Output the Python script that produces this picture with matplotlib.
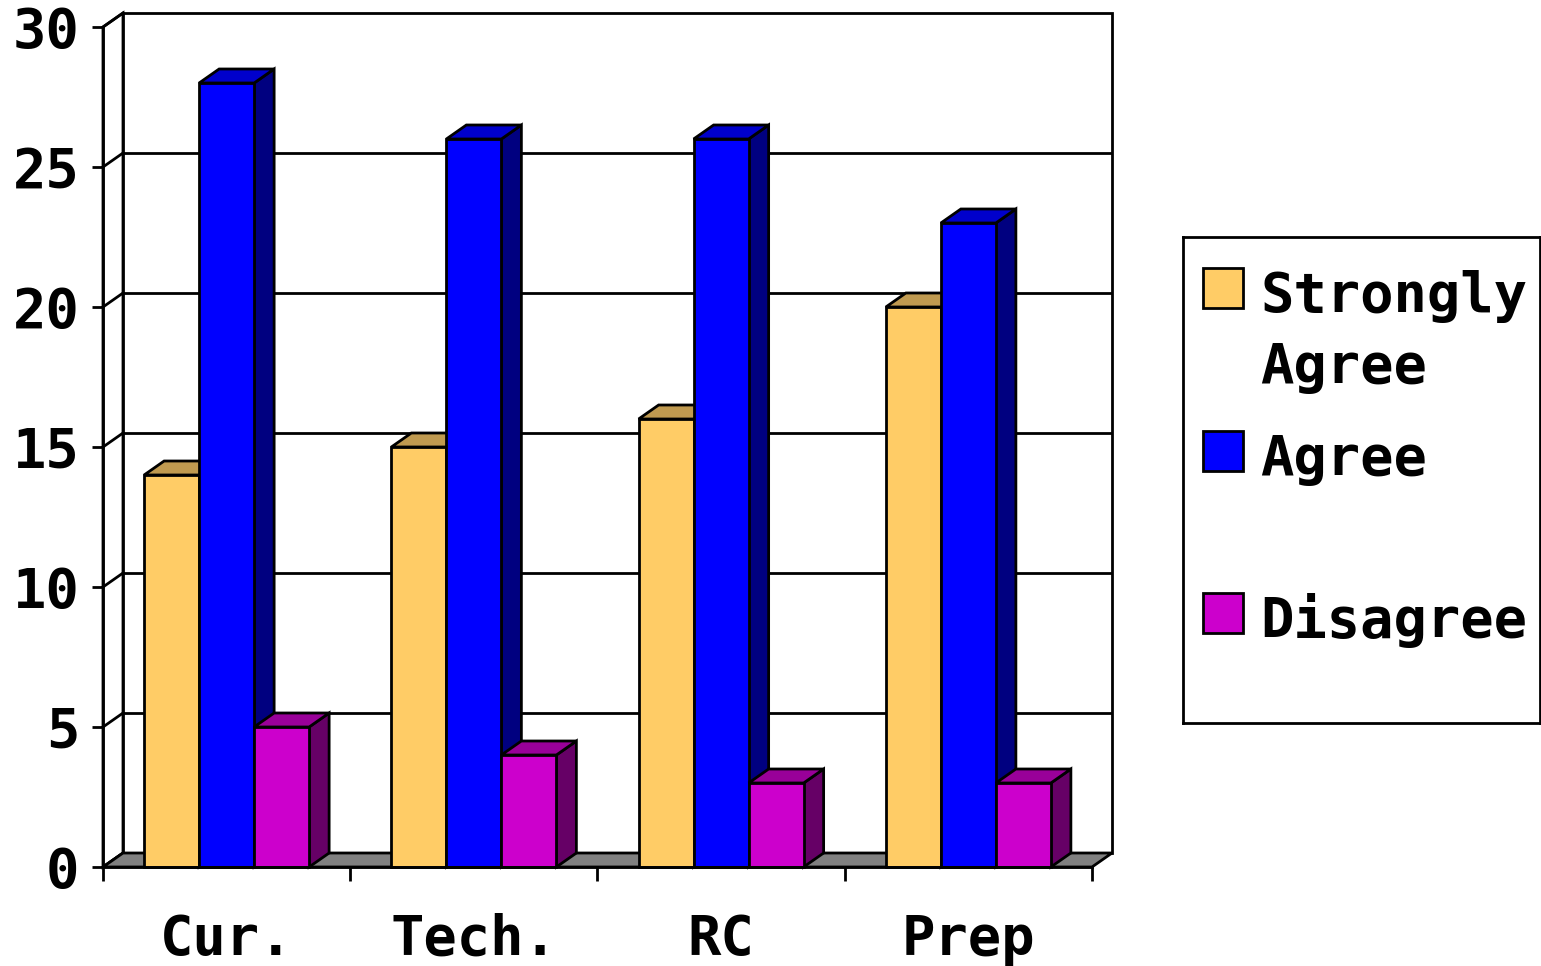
import matplotlib
matplotlib.use("Agg")
import matplotlib.pyplot as plt
from matplotlib.patches import Polygon, Rectangle
from matplotlib.ticker import FixedLocator, NullFormatter, FixedFormatter

# ---- data ----
categories = ["Cur.", "Tech.", "RC", "Prep"]
series_names = ["Strongly Agree", "Agree", "Disagree"]
strongly_agree = [14, 15, 16, 20]
agree = [28, 26, 26, 23]
disagree = [5, 4, 3, 3]
y_ticks = [0, 5, 10, 15, 20, 25, 30]

series_values = [strongly_agree, agree, disagree]

# ---- styling ----
front_colors = ["#FFCC66", "#0000FF", "#CC00CC"]
top_colors = ["#C09A50", "#0000CC", "#990099"]
side_colors = ["#806633", "#000080", "#660066"]
floor_color = "#808080"
FONT = dict(family="DejaVu Sans Mono", weight="bold", size=40)
LW = 2.0

W, H = 1541, 966
fig = plt.figure(figsize=(W / 100, H / 100), dpi=100)
fig.patch.set_facecolor("white")

# plot region (figure pixels)
left_px, right_px, bottom_px, top_px = 103, 1112, 867, 13
depth_px = 20
ax = fig.add_axes([left_px / W, (H - bottom_px) / H,
                   (right_px - left_px) / W, (bottom_px - top_px) / H])

ncat = len(categories)
ymax = y_ticks[-1]
x0, x1 = -0.5, ncat - 0.5
px_per_cat = (right_px - left_px - depth_px) / ncat
ddx = depth_px / px_per_cat          # depth offset along x (category units)
dy = 0.5                             # depth offset along y (value units)
bw = 55 / px_per_cat                 # bar width

ax.set_xlim(x0, x1 + ddx)
ax.set_ylim(0, ymax + dy)
ax.patch.set_visible(False)

# left wall and back wall
ax.add_patch(Polygon([(x0, 0), (x0 + ddx, dy), (x0 + ddx, ymax + dy), (x0, ymax)],
                     closed=True, facecolor="white", edgecolor="black", lw=LW,
                     zorder=1, clip_on=False))
ax.add_patch(Rectangle((x0 + ddx, dy), x1 - x0, ymax, facecolor="white",
                       edgecolor="black", lw=LW, zorder=1, clip_on=False))
for v in y_ticks[1:-1]:
    ax.plot([x0 + ddx, x1 + ddx], [v + dy, v + dy], color="black", lw=LW,
            zorder=1.2, clip_on=False, solid_capstyle="butt")
for v in y_ticks:
    ax.plot([x0, x0 + ddx], [v, v + dy], color="black", lw=LW, zorder=1.2,
            clip_on=False)

# floor
ax.add_patch(Polygon([(x0, 0), (x1, 0), (x1 + ddx, dy), (x0 + ddx, dy)],
                     closed=True, facecolor=floor_color, edgecolor="black",
                     lw=LW, zorder=1.5, clip_on=False))

# bars with top and side faces
for i in range(ncat):
    for j, vals in enumerate(series_values):
        v = vals[i]
        xl = i + (j - 1.5) * bw
        xr = xl + bw
        ax.add_patch(Polygon([(xr, 0), (xr + ddx, dy), (xr + ddx, v + dy), (xr, v)],
                             closed=True, facecolor=side_colors[j],
                             edgecolor="black", lw=LW, zorder=3 + j,
                             clip_on=False, joinstyle="miter"))
        ax.add_patch(Polygon([(xl, v), (xr, v), (xr + ddx, v + dy), (xl + ddx, v + dy)],
                             closed=True, facecolor=top_colors[j],
                             edgecolor="black", lw=LW, zorder=3 + j,
                             clip_on=False, joinstyle="miter"))
        ax.add_patch(Rectangle((xl, 0), bw, v, facecolor=front_colors[j],
                               edgecolor="black", lw=LW, zorder=3.1 + j,
                               clip_on=False, joinstyle="miter"))

# axes lines and ticks
for s in ("top", "right"):
    ax.spines[s].set_visible(False)
ax.spines["left"].set_bounds(0, ymax)
ax.spines["bottom"].set_bounds(x0, x1)
for s in ("left", "bottom"):
    ax.spines[s].set_linewidth(LW)
    ax.spines[s].set_zorder(10)

ax.set_yticks(y_ticks)
ax.set_yticklabels([str(t) for t in y_ticks], fontdict=FONT)
ax.tick_params(axis="y", direction="out", length=8, width=LW, pad=9)

ax.xaxis.set_major_locator(FixedLocator([x0 + k for k in range(ncat + 1)]))
ax.xaxis.set_major_formatter(NullFormatter())
ax.xaxis.set_minor_locator(FixedLocator(list(range(ncat))))
ax.xaxis.set_minor_formatter(FixedFormatter(categories))
ax.tick_params(axis="x", which="major", direction="out", length=10, width=LW)
ax.tick_params(axis="x", which="minor", length=0, pad=33)
for lab in ax.xaxis.get_minorticklabels():
    lab.set_fontproperties(matplotlib.font_manager.FontProperties(**FONT))

# legend box
lx0, ly0, lx1, ly1 = 1183, 237, 1540, 723
lax = fig.add_axes([lx0 / W, (H - ly1) / H, (lx1 - lx0) / W, (ly1 - ly0) / H])
lax.set_xlim(0, lx1 - lx0)
lax.set_ylim(ly1 - ly0, 0)
lax.set_xticks([])
lax.set_yticks([])
for s in lax.spines.values():
    s.set_linewidth(LW)
entry_tops = [31, 194, 356]
line_step = 71
for j, name in enumerate(series_names):
    top = entry_tops[j]
    lax.add_patch(Rectangle((20, top), 40, 40, facecolor=front_colors[j],
                            edgecolor="black", lw=LW))
    for k, word in enumerate(name.split(" ")):
        lax.text(77, top + 44 + k * line_step, word, ha="left", va="baseline",
                 **FONT)

fig.savefig("out.png", dpi=100, facecolor="white")
